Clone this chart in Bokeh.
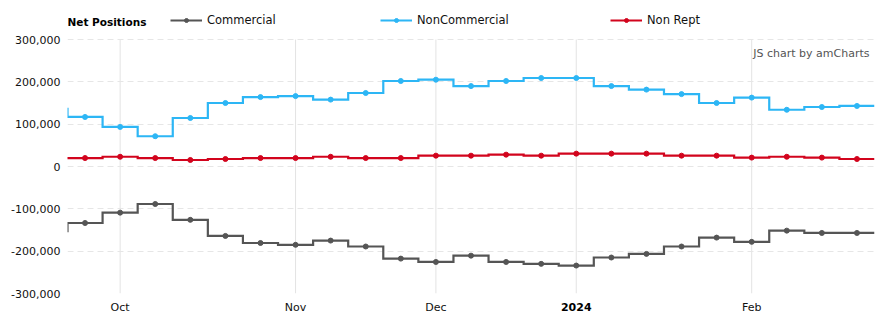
import numpy as np
import pandas as pd
from bokeh.plotting import figure
from bokeh.models import (Range1d, FixedTicker, NumeralTickFormatter, Legend, LegendItem,
                          Label, LinearAxis)
from bokeh.embed import file_html
from bokeh.resources import INLINE

# ---- data (weekly report dates) ----
dates = pd.date_range("2023-09-19", "2024-02-27", freq="7D")
commercial = [-153000, -133500, -109000, -88600, -126000, -164000, -180700, -185000,
              -175000, -189000, -217600, -225500, -210600, -225500, -230000, -234000,
              -215000, -206500, -189000, -168000, -178000, -151500, -157000, -157000]
noncommercial = [136000, 117000, 93500, 71500, 114600, 150000, 164000, 166300,
                 158000, 173600, 202000, 205000, 190000, 202000, 209000, 209000,
                 190000, 181600, 171000, 150000, 162700, 134000, 140500, 143000]
nonrept = [20000, 20000, 23000, 20000, 15400, 17700, 20000, 20000,
           23000, 20000, 20000, 25600, 25600, 28000, 25600, 30400,
           30400, 30400, 25600, 25600, 21000, 23000, 21000, 17700]
month_starts = ["2023-10-01", "2023-11-01", "2023-12-01", "2024-01-01", "2024-02-01"]
month_labels = ["Oct", "Nov", "Dec", "2024", "Feb"]
y_ticks = [-300000, -200000, -100000, 0, 100000, 200000, 300000]
series_names = ["Commercial", "NonCommercial", "Non Rept"]
colors = ["#555555", "#2db6f5", "#d2041d"]

FONT = "DejaVu Sans"
x = np.arange(len(dates))

# month tick = first week whose Monday is on/after the month start
mondays = dates - pd.to_timedelta(dates.dayofweek, unit="D")
tick_pos = [int(np.argmax(mondays >= pd.Timestamp(ms))) for ms in month_starts]
year_ticks = [t for t, l in zip(tick_pos, month_labels) if l.isdigit()]
month_ticks = [t for t, l in zip(tick_pos, month_labels) if not l.isdigit()]

# layout: value axis spans 254 px (y=39..293); frame extends up to y=3 to hold the legend
FRAME_TOP, AX_TOP, AX_BOT = 3, 39, 293
ymin, ymax = min(y_ticks), max(y_ticks)
per_px = (ymax - ymin) / (AX_BOT - AX_TOP)
y_end = ymax + (AX_TOP - FRAME_TOP) * per_px

p = figure(width=888, height=327, output_backend="svg", toolbar_location=None,
           x_range=Range1d(0.5, len(dates) - 0.5), y_range=Range1d(ymin, y_end),
           min_border_left=67, min_border_right=14, min_border_top=FRAME_TOP,
           min_border_bottom=327 - AX_BOT)
p.outline_line_color = None
p.background_fill_color = "white"
p.border_fill_color = "white"

def style_axis(ax):
    ax.axis_line_color = None
    ax.major_tick_line_color = None
    ax.minor_tick_line_color = None
    ax.major_tick_out = 0
    ax.major_tick_in = 0
    ax.major_label_text_font = FONT
    ax.major_label_text_font_size = "11px"
    ax.major_label_text_color = "#111111"

p.yaxis.ticker = FixedTicker(ticks=y_ticks)
p.yaxis.formatter = NumeralTickFormatter(format="0,0")
style_axis(p.yaxis[0])
p.yaxis.major_label_standoff = 7

# inner x axis: bold year label
xa_year = p.xaxis[0]
xa_year.ticker = FixedTicker(ticks=year_ticks)
xa_year.major_label_overrides = {t: l for t, l in zip(tick_pos, month_labels) if l.isdigit()}
style_axis(xa_year)
xa_year.major_label_text_font_style = "bold"
xa_year.major_label_text_color = "#000000"
xa_year.major_label_standoff = 9

# outer x axis: month labels, pulled up onto the same line
xa_month = LinearAxis(ticker=FixedTicker(ticks=month_ticks),
                      major_label_overrides={t: l for t, l in zip(tick_pos, month_labels)})
style_axis(xa_month)
xa_month.major_label_standoff = -13
p.add_layout(xa_month, "below")

p.xgrid.visible = False
p.ygrid.grid_line_color = "#e6e6e6"
p.ygrid.grid_line_dash = "6 4"
# vertical month grid lines limited to the value-axis extent
p.segment(x0=tick_pos, y0=[ymin] * len(tick_pos), x1=tick_pos, y1=[ymax] * len(tick_pos),
          line_color="#e3e3e3", line_width=1, level="underlay")

items = []
for name, vals, col in zip(series_names, [commercial, noncommercial, nonrept], colors):
    vals = np.asarray(vals, dtype=float)
    sx = np.column_stack([x - 0.5, x + 0.5]).ravel()
    sy = np.repeat(vals, 2)
    lr = p.line(sx, sy, line_color=col, line_width=2.2, line_join="miter")
    sr = p.scatter(x, vals, size=5, color=col, marker="circle")
    items.append(LegendItem(label=name, renderers=[lr, sr]))

LEG_Y = 21
legend_x = [103, 313, 543]
for it, lx in zip(items, legend_x):
    lg = Legend(items=[it], location=(lx, AX_BOT - LEG_Y - 6), orientation="horizontal",
                glyph_width=32, glyph_height=10, label_height=12, label_standoff=5,
                padding=0, margin=0, border_line_color=None, background_fill_alpha=0,
                label_text_font=FONT, label_text_font_size="11.5px", label_text_color="#111111")
    p.add_layout(lg, "center")

p.add_layout(Label(x=0.5, y=ymax + (AX_TOP - LEG_Y) * per_px, text="Net Positions",
                   text_font=FONT, text_font_size="10.5px", text_font_style="bold",
                   text_baseline="middle", text_align="left", text_color="#000000"))
p.add_layout(Label(x=len(dates) - 0.5 - 5 / 35.09, y=ymax - (53 - AX_TOP) * per_px,
                   text="JS chart by amCharts", text_font=FONT, text_font_size="11px",
                   text_baseline="middle", text_align="right", text_color="#555555"))

open("out.html", "w").write(file_html(p, INLINE))
